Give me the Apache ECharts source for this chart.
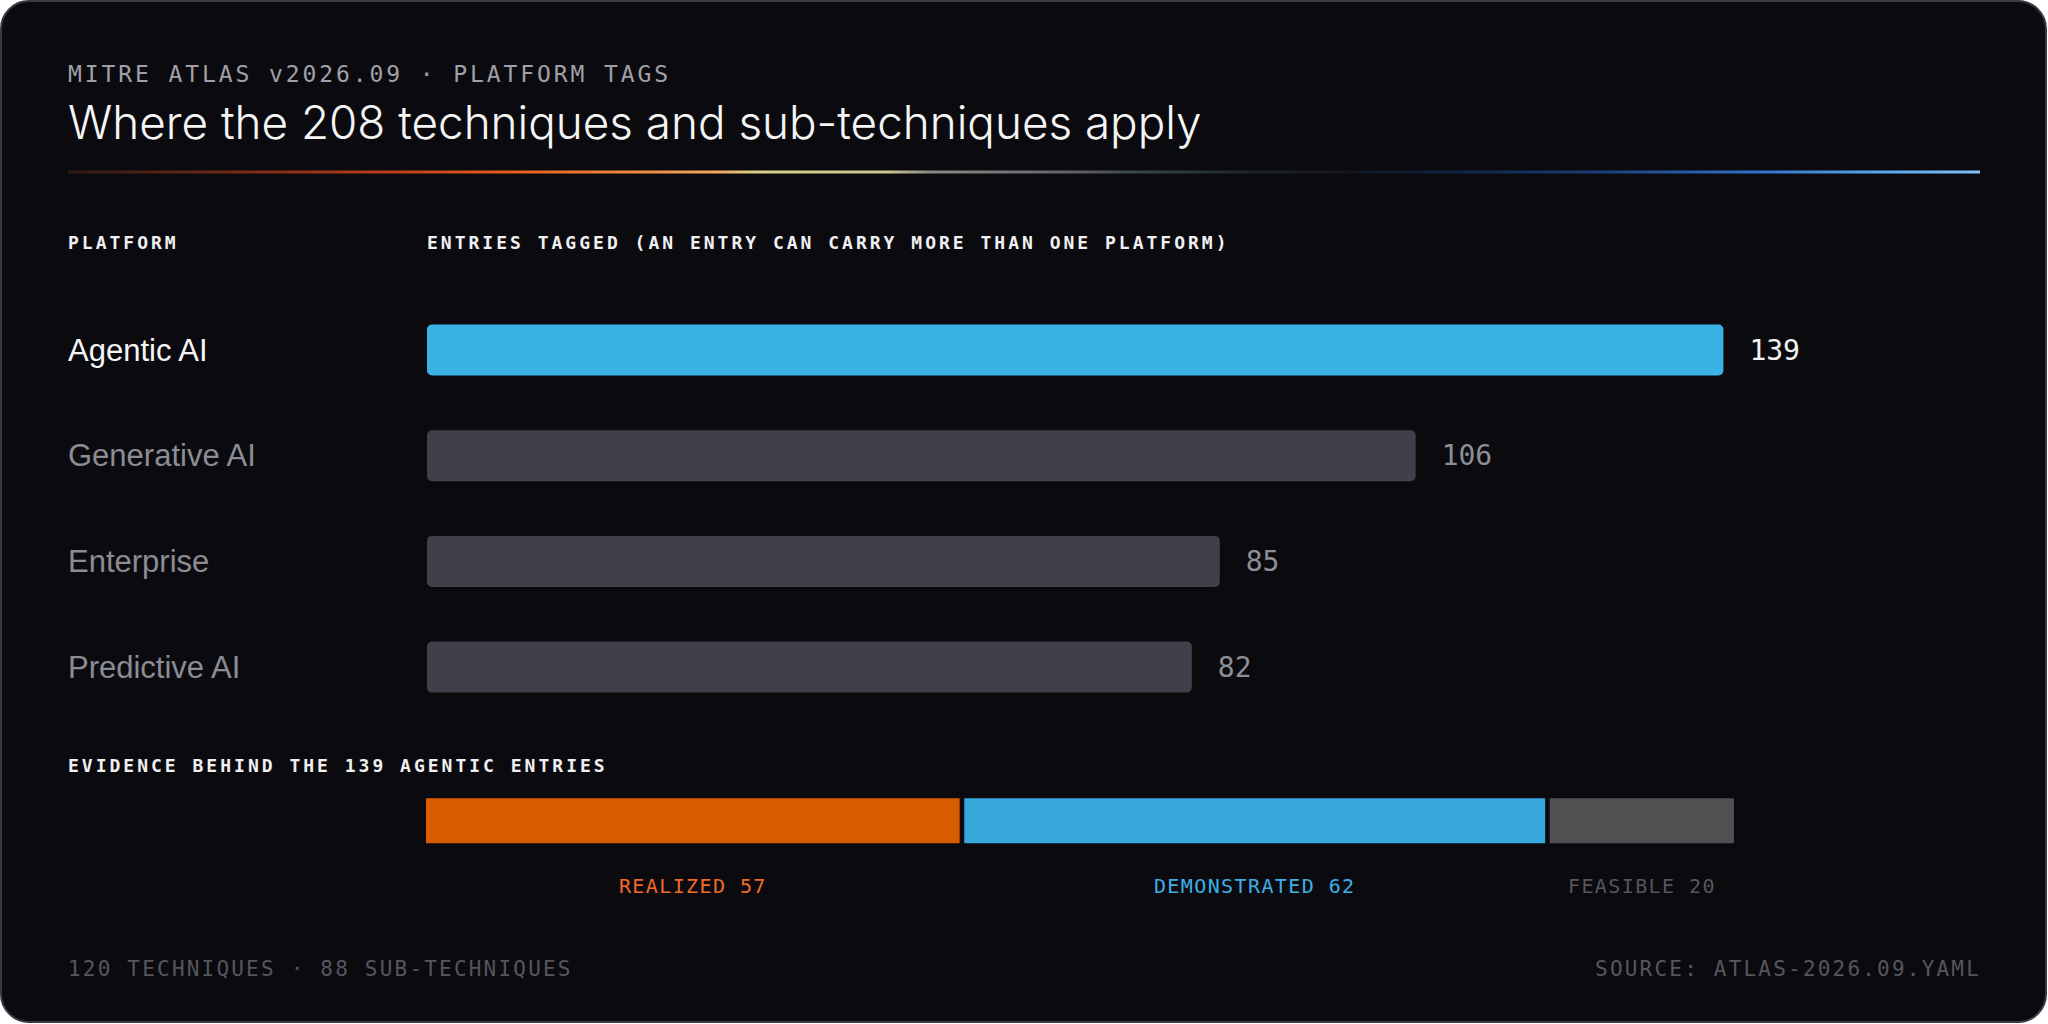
<!DOCTYPE html>
<html>
<head>
<meta charset="utf-8">
<title>MITRE ATLAS platform tags</title>
<script src="https://cdn.jsdelivr.net/npm/echarts@6/dist/echarts.min.js"></script>
<style>
  html, body { margin: 0; padding: 0; background: #ffffff; }
  #main { width: 2048px; height: 1024px; }
</style>
</head>
<body>
<div id="main"></div>
<script>
// data
const platforms = ["Agentic AI", "Generative AI", "Enterprise", "Predictive AI"];
const entriesTagged = [139, 106, 85, 82];
const highlightPlatform = "Agentic AI";

const evidenceKinds = ["Realized", "Demonstrated", "Feasible"];
const evidenceCounts = [57, 62, 20];
const evidenceColors = ["#da5c00", "#38a8dc", "#505052"];
const evidenceTextColors = ["#f06a28", "#3eb0e8", "#56565c"];

const BG = "#0b0b0f";
const MONO = "'DejaVu Sans Mono', monospace";

// tracking for the mono captions, keyed by font size (svg renderer only)
const tracking = { "23px": "2.9px", "18px": "3px", "20px": "1.4px", "21px": "2.2px" };

let myChart = echarts.init(document.getElementById("main"), null, { renderer: "svg" });

const barData = entriesTagged.map((v, i) => {
  const on = platforms[i] === highlightPlatform;
  return {
    value: v,
    itemStyle: { color: on ? "#3bb2e6" : "#40404a" },
    label: { color: on ? "#f2f2f2" : "#8e8e96" },
  };
});

const evidenceSeries = evidenceKinds.map((name, i) => ({
  name: name,
  type: "bar",
  stack: "evidence",
  xAxisIndex: 1,
  yAxisIndex: 1,
  barWidth: 49.6,
  data: [evidenceCounts[i]],
  itemStyle: { color: evidenceColors[i], borderColor: BG, borderWidth: 2.3 },
  label: {
    show: true,
    position: "bottom",
    distance: 30,
    formatter: (p) => p.seriesName.toUpperCase() + " " + p.value,
    color: evidenceTextColors[i],
    fontFamily: MONO,
    fontSize: 20,
  },
  silent: true,
}));

function caption(text, x, y, size, color, weight, align) {
  return {
    type: "text",
    z: 10,
    style: {
      text: text,
      x: x,
      y: y,
      fill: color,
      fontFamily: MONO,
      fontSize: size,
      fontWeight: weight || "normal",
      align: align || "left",
      textAlign: align || "left",
      verticalAlign: "middle",
      textVerticalAlign: "middle",
    },
  };
}

const options = {
  backgroundColor: "#ffffff",
  animation: false,
  graphic: [
    {
      type: "rect",
      z: -10,
      shape: { x: 1, y: 1, width: 2045, height: 1021, r: 28 },
      style: { fill: BG, stroke: "#3a3a42", lineWidth: 2 },
    },
    caption("MITRE ATLAS v2026.09 · PLATFORM TAGS", 68, 74, 23, "#a0a0a8"),
    {
      type: "text",
      z: 10,
      style: {
        text: "Where the 208 techniques and sub-techniques apply",
        x: 68,
        y: 122,
        fill: "#f5f5f5",
        fontFamily: "Inter",
        fontWeight: 300,
        fontSize: 45.8,
        align: "left",
        textAlign: "left",
        verticalAlign: "middle",
        textVerticalAlign: "middle",
      },
    },
    {
      type: "rect",
      z: 10,
      shape: { x: 68, y: 170.5, width: 1912, height: 3 },
      style: {
        fill: {
          type: "linear", x: 0, y: 0, x2: 1, y2: 0,
          colorStops: [
            { offset: 0, color: "#2e1a14" },
            { offset: 0.08, color: "#6e2816" },
            { offset: 0.17, color: "#c03e1a" },
            { offset: 0.24, color: "#e8641e" },
            { offset: 0.3, color: "#f08c40" },
            { offset: 0.34, color: "#f2a860" },
            { offset: 0.36, color: "#d8d08a" },
            { offset: 0.43, color: "#cac690" },
            { offset: 0.45, color: "#8a8a86" },
            { offset: 0.52, color: "#66666a" },
            { offset: 0.56, color: "#3a4448" },
            { offset: 0.62, color: "#1c2428" },
            { offset: 0.67, color: "#12161e" },
            { offset: 0.72, color: "#0e2240" },
            { offset: 0.8, color: "#1a3e78" },
            { offset: 0.88, color: "#2e70c8" },
            { offset: 0.95, color: "#5aa8ee" },
            { offset: 1, color: "#7ec0f8" },
          ],
        },
      },
    },
    caption("PLATFORM", 68, 242.5, 18, "#f0f0f2", "bold"),
    caption("ENTRIES TAGGED (AN ENTRY CAN CARRY MORE THAN ONE PLATFORM)", 427, 242.5, 18, "#f0f0f2", "bold"),
    caption("EVIDENCE BEHIND THE 139 AGENTIC ENTRIES", 68, 765, 18, "#f0f0f2", "bold"),
    caption("120 TECHNIQUES · 88 SUB-TECHNIQUES", 68, 969, 21, "#55565e"),
    caption("SOURCE: ATLAS-2026.09.YAML", 1981, 969, 21, "#55565e", "normal", "right"),
  ],
  grid: [
    { left: 427, top: 297.15, width: 1399, height: 422.8 },
    { left: 423.7, top: 796, width: 1416.5, height: 49.6 },
  ],
  xAxis: [
    { gridIndex: 0, type: "value", min: 0, max: 150, show: false },
    { gridIndex: 1, type: "value", min: 0, max: 150, show: false },
  ],
  yAxis: [
    {
      gridIndex: 0,
      type: "category",
      data: platforms,
      inverse: true,
      axisLine: { show: false },
      axisTick: { show: false },
      splitLine: { show: false },
      axisLabel: {
        align: "left",
        margin: 359,
        fontFamily: "'Liberation Sans', Arial, sans-serif",
        fontSize: 31,
        color: (value) => (value === highlightPlatform ? "#f5f5f5" : "#8c8c94"),
      },
    },
    { gridIndex: 1, type: "category", data: ["Agentic AI"], show: false },
  ],
  series: [
    {
      name: "Entries tagged",
      type: "bar",
      xAxisIndex: 0,
      yAxisIndex: 0,
      barWidth: 51,
      data: barData,
      itemStyle: { borderRadius: 5 },
      label: {
        show: true,
        position: "right",
        distance: 26,
        fontFamily: "DejaVu Sans Mono",
        fontSize: 28,
      },
      silent: true,
    },
    ...evidenceSeries,
  ],
};

function applyTracking() {
  document.querySelectorAll("#main svg text").forEach((t) => {
    const ls = tracking[getComputedStyle(t).fontSize];
    if (ls) t.setAttribute("letter-spacing", ls);
  });
}

myChart.on("finished", applyTracking);
myChart.setOption(options);
setTimeout(applyTracking, 50);
</script>
</body>
</html>
